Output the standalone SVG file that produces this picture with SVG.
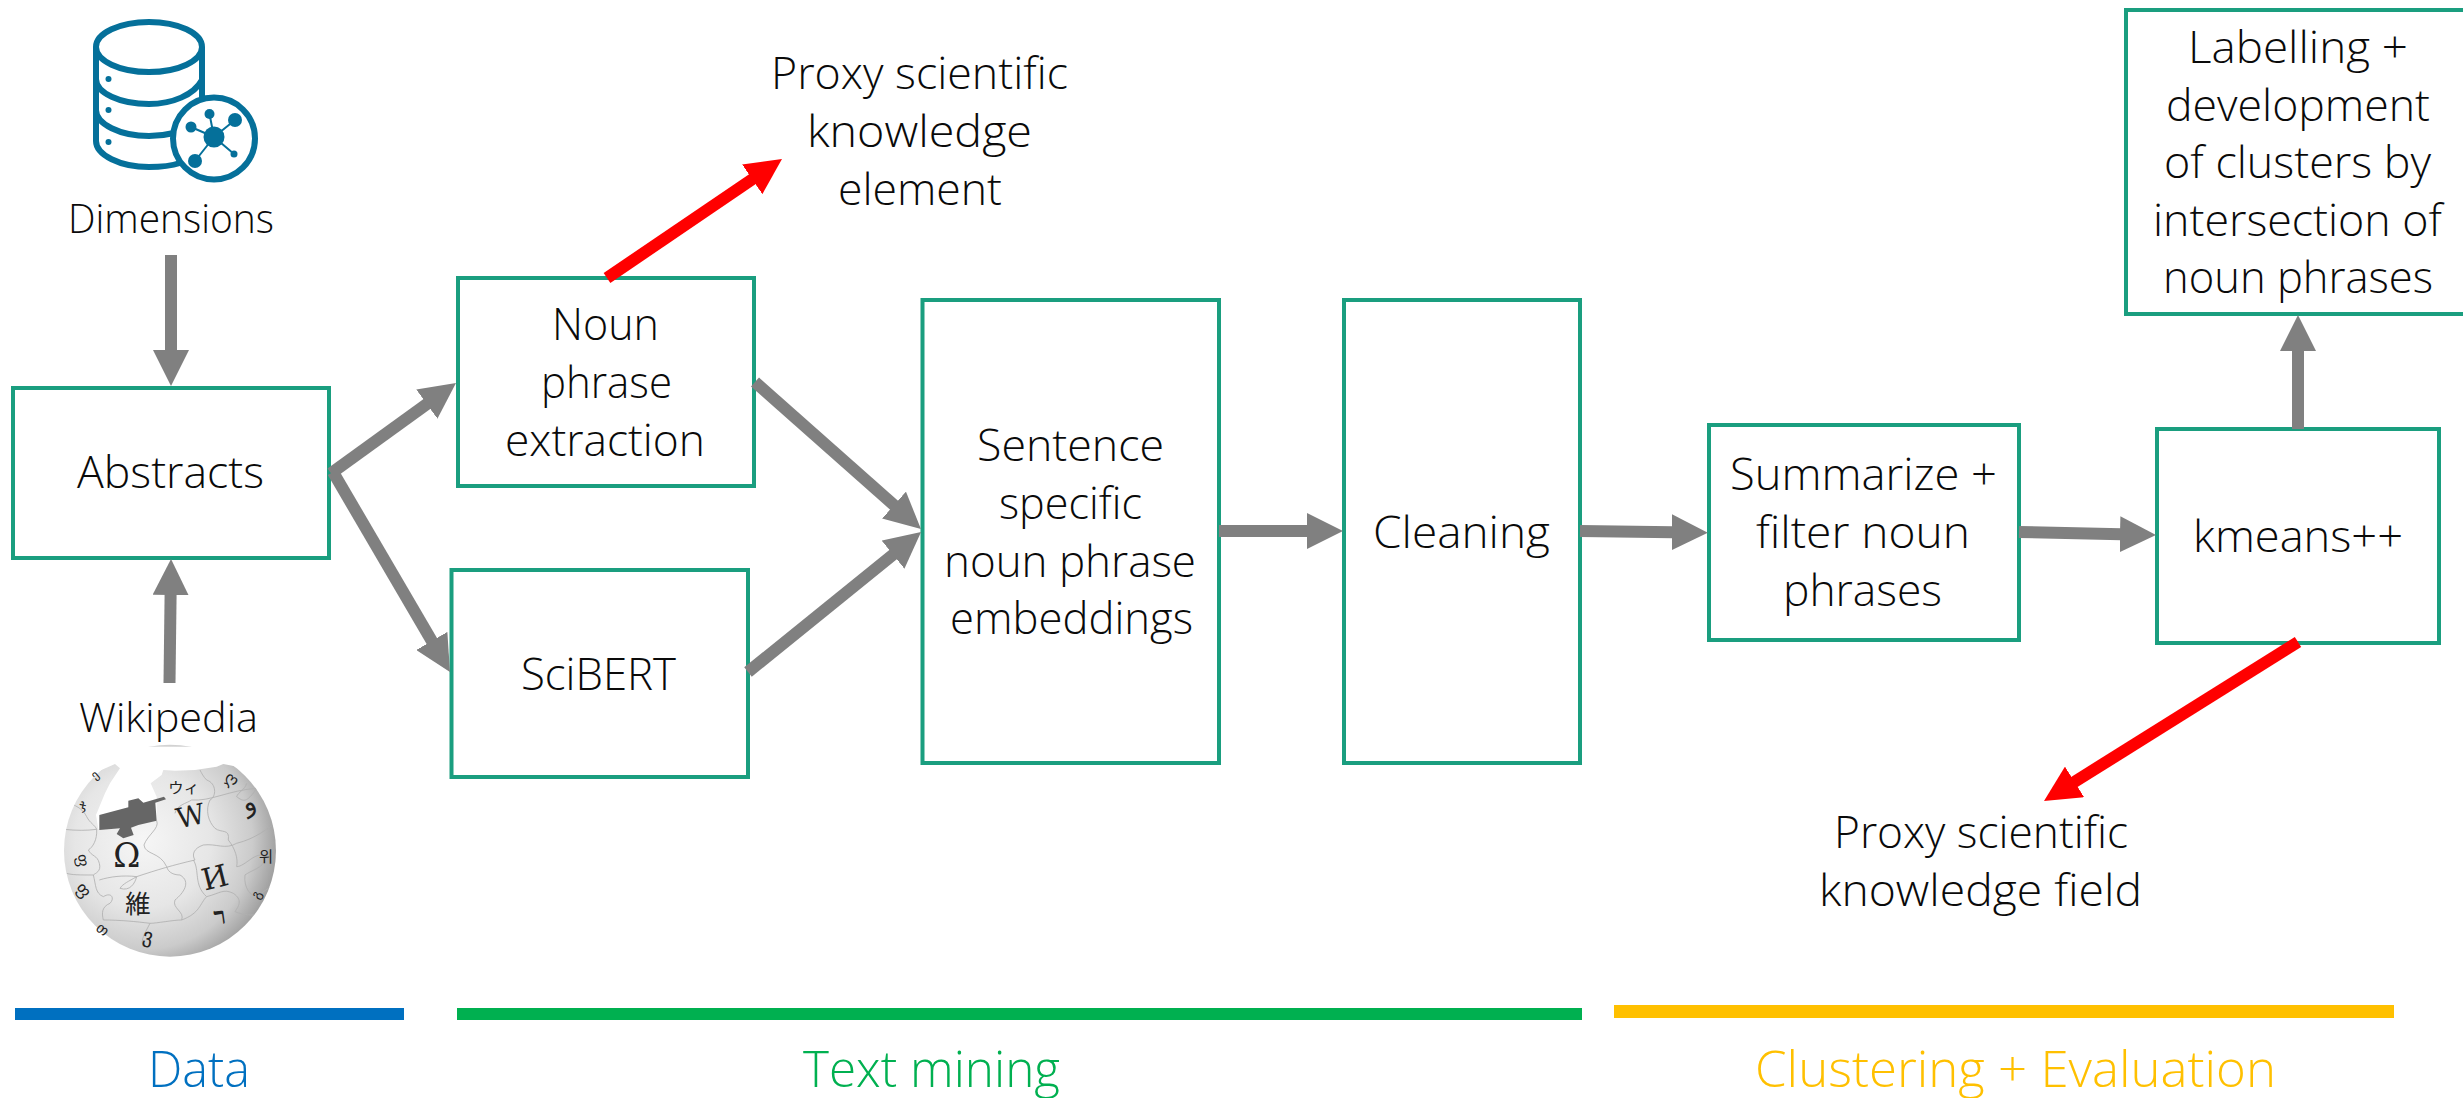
<svg xmlns="http://www.w3.org/2000/svg" width="2463" height="1098" viewBox="0 0 2463 1098">
<style>
text{font-family:"Open Sans","Noto Sans","Liberation Sans",sans-serif;font-weight:300;fill:#0a0a0a;font-size:44px}
.box{fill:none;stroke:#1a9e7f;stroke-width:4}
.g{stroke:#808080;stroke-width:12;fill:none;marker-end:url(#ag)}
.r{stroke:#ff0000;stroke-width:12;fill:none;marker-end:url(#ar)}
.lab{font-size:50px}
.ic{fill:none;stroke:#05709a;stroke-width:6}
.dot{fill:#05709a}
.pz{fill:none;stroke:#b0b0b0;stroke-width:2.5}
.gl{font-family:"DejaVu Serif","Noto Sans CJK JP",serif;fill:#222;font-weight:400}
</style>
<defs>
<marker id="ag" viewBox="0 0 3 3" refX="0.1" refY="1.5" markerWidth="3" markerHeight="3" orient="auto"><path d="M0 0L3 1.5L0 3z" fill="#808080"/></marker>
<marker id="ar" viewBox="0 0 3 3" refX="0.1" refY="1.5" markerWidth="3" markerHeight="3" orient="auto"><path d="M0 0L3 1.5L0 3z" fill="#ff0000"/></marker>
<radialGradient id="sph" gradientUnits="userSpaceOnUse" cx="250" cy="240" r="410"><stop offset="0" stop-color="#f6f6f6"/><stop offset="0.5" stop-color="#e6e6e6"/><stop offset="0.8" stop-color="#cbcbcb"/><stop offset="1" stop-color="#9c9c9c"/></radialGradient>
<clipPath id="ball"><circle cx="330" cy="272" r="318"/></clipPath>
</defs>

<g id="dimensions">
<g id="dimensions-icon">
<ellipse class="ic" cx="149" cy="47" rx="53" ry="25"/>
<path class="ic" d="M96 47V141C96 155 120 167 149 167C160 167 171 166 180 163M202 47V100M96 79C96 93 120 104 149 104C172 104 194 95 202 80M96 110C96 124 120 136 149 136C158 136 166 135 174 133"/>
<circle cx="108.500" cy="79" r="3" class="dot"/><circle cx="108.500" cy="110" r="3" class="dot"/><circle cx="108.500" cy="142" r="3" class="dot"/>
<ellipse cx="214" cy="138.500" rx="41" ry="41" fill="#fff" stroke="#05709a" stroke-width="6"/>
<path d="M214 137L209.500 114M214 137L235 120M214 137L191 127M214 137L195 161M214 137L234 154" stroke="#05709a" stroke-width="2"/>
<circle cx="214" cy="137" r="10.500" class="dot"/><circle cx="209.500" cy="114" r="5" class="dot"/><circle cx="235" cy="120" r="7" class="dot"/><circle cx="191" cy="127" r="5.500" class="dot"/><circle cx="195" cy="161" r="7" class="dot"/><circle cx="234" cy="154" r="3.500" class="dot"/>
</g>
<text x="68" y="233" textLength="206" lengthAdjust="spacingAndGlyphs" style="font-size:40px">Dimensions</text>
</g>

<g id="wikipedia">
<text x="79" y="732" textLength="179" lengthAdjust="spacingAndGlyphs" style="font-size:40px">Wikipedia</text>
<g id="wikipedia-globe" transform="translate(60 760) scale(.3333)">
<circle cx="330" cy="272" r="318" fill="url(#sph)"/>
<g clip-path="url(#ball)">
<path class="pz" d="M12 208C50 212 80 212 110 208M110 208C112 240 98 262 85 270C95 290 112 285 118 310C125 335 105 340 100 345C60 345 35 345 20 340M100 345C108 375 105 400 130 410C155 395 165 415 150 430C125 440 125 460 130 480M290 182C300 205 262 225 252 255C255 285 300 275 320 320C325 340 345 345 360 345C395 365 370 400 345 420C335 445 375 455 365 480C340 480 290 490 270 490C255 520 240 540 250 560M230 350C290 330 340 315 405 300C395 285 400 265 430 255C470 250 495 270 530 250C590 235 620 205 640 195M118 360C150 350 190 345 230 350C205 365 190 370 180 385C210 395 225 370 230 350M345 160C350 135 380 130 395 120C450 125 510 90 590 85M450 120C435 150 445 185 465 205C485 220 510 205 505 240M505 240C525 265 535 295 530 320C555 320 590 270 615 290C620 320 575 330 555 345C550 385 575 410 590 410C610 395 625 385 640 375M400 300C420 330 400 375 440 410C480 400 490 385 520 400C550 420 535 440 525 455C560 470 590 465 600 460M365 480C420 460 420 430 440 410M450 120C470 110 470 70 440 60C430 50 425 40 420 30M560 70C555 90 535 95 530 110C550 125 560 130 590 85M270 490C230 485 180 480 130 480"/>
<path class="pz" d="M30 130C55 140 70 150 80 170C90 190 105 195 110 208" stroke-width="2"/>
</g>
<path d="M0 0V60L90 45L165 12L180 25L150 70L135 100L108 165L115 208L290 182L290 110L272 70L305 45L310 30L345 32L405 30L470 20L490 12L540 22L680 0V-40H0z" fill="#fff"/>
<path d="M118 165L205 142L205 122L235 115L250 128L312 110L318 118L286 128L290 182L235 195L213 203L221 225L190 235L170 222L180 205L118 210z" fill="#666"/>
<text class="gl" x="160" y="320" style="font-size:98px">Ω</text>
<text class="gl" transform="translate(356 206) rotate(-13)" style="font-size:84px">W</text>
<text class="gl" transform="translate(434 392) rotate(-14)" style="font-size:90px">И</text>
<text class="gl" x="196" y="458" style="font-family:'Noto Sans CJK JP',serif;font-size:76px">維</text>
<text class="gl" x="325" y="100" style="font-family:'Noto Sans CJK JP',serif;font-size:46px">ウィ</text>
<text class="gl" transform="translate(465 495) rotate(-8)" style="font-size:72px;font-weight:700">ר</text>
<text class="gl" transform="translate(558 160) rotate(-25)" style="font-size:80px;font-family:'DejaVu Sans',sans-serif">و</text>
<text class="gl" x="597" y="305" style="font-family:'Noto Sans CJK KR',serif;font-size:46px">위</text>
<text class="gl" transform="translate(490 60) rotate(35)" style="font-size:50px;font-family:'DejaVu Sans',sans-serif">ღ</text>
<text class="gl" transform="translate(50 285) rotate(80)" style="font-size:46px;font-family:'DejaVu Sans',sans-serif">ფ</text>
<text class="gl" transform="translate(45 385) rotate(50)" style="font-size:50px;font-family:'DejaVu Sans',sans-serif">ფ</text>
<text class="gl" transform="translate(62 150) rotate(-15)" style="font-size:42px;font-family:'DejaVu Sans',sans-serif">ჯ</text>
<text class="gl" transform="translate(105 60) rotate(-40)" style="font-size:36px;font-family:'DejaVu Sans',sans-serif">ე</text>
<text class="gl" transform="translate(245 545) rotate(10)" style="font-size:60px;font-family:'DejaVu Sans',sans-serif">ვ</text>
<text class="gl" transform="translate(105 510) rotate(35)" style="font-size:44px;font-family:'DejaVu Sans',sans-serif">თ</text>
<text class="gl" transform="translate(595 420) rotate(-60)" style="font-size:40px;font-family:'DejaVu Sans',sans-serif">გ</text>
</g>
</g>

<g id="abstracts"><rect class="box" x="13" y="388" width="316" height="170"/><text x="77" y="488" textLength="187" lengthAdjust="spacingAndGlyphs">Abstracts</text></g>
<g id="noun-phrase-extraction"><rect class="box" x="458" y="278" width="296" height="208"/>
<text x="552" y="340" textLength="107" lengthAdjust="spacingAndGlyphs">Noun</text><text x="541" y="398" textLength="131" lengthAdjust="spacingAndGlyphs">phrase</text><text x="505" y="456" textLength="200" lengthAdjust="spacingAndGlyphs">extraction</text></g>
<g id="scibert"><rect class="box" x="451.500" y="570" width="296.500" height="207"/><text x="521" y="690" textLength="155" lengthAdjust="spacingAndGlyphs">SciBERT</text></g>
<g id="embeddings"><rect class="box" x="922.500" y="300" width="296.500" height="463"/>
<text x="977" y="461" textLength="187" lengthAdjust="spacingAndGlyphs">Sentence</text><text x="999" y="519" textLength="143" lengthAdjust="spacingAndGlyphs">specific</text><text x="944" y="577" textLength="252" lengthAdjust="spacingAndGlyphs">noun phrase</text><text x="950" y="634" textLength="243" lengthAdjust="spacingAndGlyphs">embeddings</text></g>
<g id="cleaning"><rect class="box" x="1344" y="300" width="236" height="463"/><text x="1373" y="548" textLength="177" lengthAdjust="spacingAndGlyphs">Cleaning</text></g>
<g id="summarize"><rect class="box" x="1709" y="425" width="310" height="215"/>
<text x="1730" y="490" textLength="267" lengthAdjust="spacingAndGlyphs">Summarize +</text><text x="1756" y="548" textLength="214" lengthAdjust="spacingAndGlyphs">filter noun</text><text x="1783" y="606" textLength="159" lengthAdjust="spacingAndGlyphs">phrases</text></g>
<g id="kmeans"><rect class="box" x="2157" y="429" width="282" height="214"/><text x="2193" y="552" textLength="210" lengthAdjust="spacingAndGlyphs">kmeans++</text></g>
<g id="labelling"><rect class="box" x="2126" y="10" width="344" height="304"/>
<text x="2188" y="63" textLength="220" lengthAdjust="spacingAndGlyphs">Labelling +</text><text x="2166" y="121" textLength="264" lengthAdjust="spacingAndGlyphs">development</text><text x="2164" y="178" textLength="267" lengthAdjust="spacingAndGlyphs">of clusters by</text><text x="2153" y="236" textLength="289" lengthAdjust="spacingAndGlyphs">intersection of</text><text x="2163" y="293" textLength="270" lengthAdjust="spacingAndGlyphs">noun phrases</text></g>
<g id="proxy-element"><text x="771" y="89" textLength="297" lengthAdjust="spacingAndGlyphs">Proxy scientific</text><text x="807" y="147" textLength="225" lengthAdjust="spacingAndGlyphs">knowledge</text><text x="838" y="205" textLength="164" lengthAdjust="spacingAndGlyphs">element</text></g>
<g id="proxy-field"><text x="1834" y="848" textLength="294" lengthAdjust="spacingAndGlyphs">Proxy scientific</text><text x="1819" y="906" textLength="323" lengthAdjust="spacingAndGlyphs">knowledge field</text></g>

<g id="phases">
<rect x="15" y="1008" width="389" height="12" fill="#0070c0"/><text class="lab" x="148" y="1087" textLength="102" lengthAdjust="spacingAndGlyphs" style="fill:#0070c0">Data</text>
<rect x="457" y="1008" width="1125" height="12" fill="#00b050"/><text class="lab" x="803" y="1087" textLength="257" lengthAdjust="spacingAndGlyphs" style="fill:#00b050">Text mining</text>
<rect x="1614" y="1005" width="780" height="13" fill="#ffc000"/><text class="lab" x="1755" y="1087" textLength="521" lengthAdjust="spacingAndGlyphs" style="fill:#ffc000">Clustering + Evaluation</text>
</g>

<g id="connectors">
<path class="g" d="M171 255V351.200"/>
<path class="g" d="M169.500 683L170.600 593.800"/>
<path class="g" d="M331 473.400L427.800 403.400"/>
<path class="g" d="M333 472L432.400 642"/>
<path class="g" d="M755 382L894.900 505.900"/>
<path class="g" d="M748 672L894 553.900"/>
<path class="g" d="M1219 531H1308.200"/>
<path class="g" d="M1580 531L1673 532.200"/>
<path class="g" d="M2019 532L2121.200 534.200"/>
<path class="g" d="M2298 429V349.800"/>
<path class="r" d="M607 278L753.200 178.600"/>
<path class="r" d="M2298 642L2073.500 782.500"/>
</g>
</svg>
